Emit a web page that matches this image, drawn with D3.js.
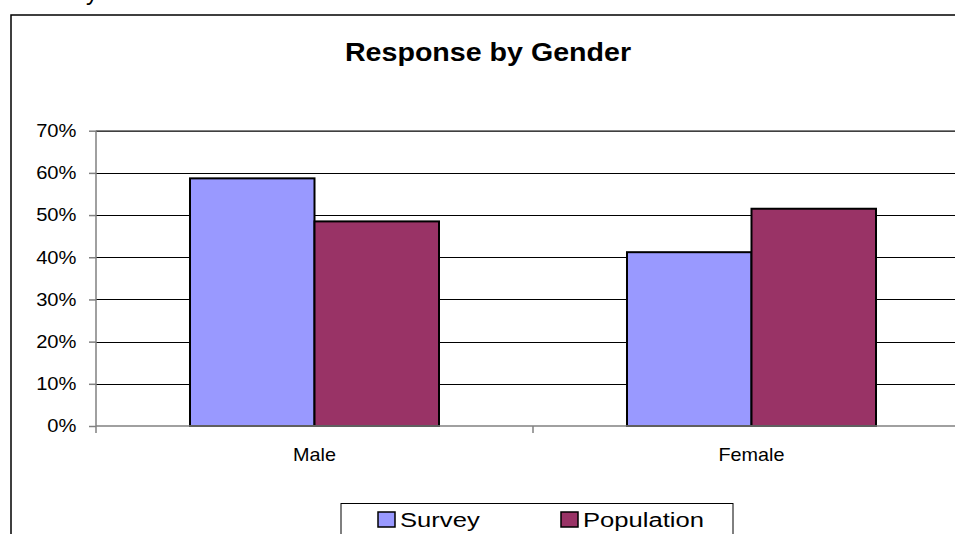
<!DOCTYPE html>
<html>
<head>
<meta charset="utf-8">
<script src="https://d3js.org/d3.v7.min.js"></script>
<style>
    body { margin: 0; background: #fff; }
    svg { display: block; font-family: Arial, "Liberation Sans", sans-serif; }
    .grid line { stroke: #000; stroke-width: 1px; shape-rendering: crispEdges; }
    .grid path { stroke-width: 0; }
    .axis path, .axis line { fill: none; stroke: #808080; stroke-width: 1.5px; }
    .axis text { font-size: 18px; fill: #000; }
    .bar { stroke: #000; stroke-width: 2px; }
</style>
</head>
<body>
<svg id="chart" width="955" height="534"></svg>
<script>
    // данные
    const categories = ["Male", "Female"];
    const seriesNames = ["Survey", "Population"];
    const survey = [0.587, 0.412];
    const population = [0.485, 0.515];
    const seriesColors = ["#9999FF", "#993366"];
    const yTicks = [0, 0.1, 0.2, 0.3, 0.4, 0.5, 0.6, 0.7];

    const svg = d3.select("#chart");
    const plot = { left: 96, right: 970, top: 130.7, bottom: 426 };
    const sx = 1.12; // текст немного растянут по горизонтали

    // внешняя рамка (правый и нижний края за пределами картинки)
    svg.append("rect")
        .attr("x", 11).attr("y", 15)
        .attr("width", 1000).attr("height", 600)
        .attr("fill", "none").attr("stroke", "#000").attr("stroke-width", 1.5);

    // обрезанный кусок текста сверху
    svg.append("text")
        .attr("x", 86).attr("y", 0)
        .style("font-size", "24px")
        .text("y");

    const x0 = d3.scaleBand().domain(categories).range([plot.left, plot.right]);
    const x1 = d3.scaleBand().domain(seriesNames).range([0, x0.bandwidth()]).paddingOuter(0.755);
    const y = d3.scaleLinear().domain([0, 0.7]).range([plot.bottom, plot.top]);

    // сетка
    svg.append("g")
        .attr("class", "grid")
        .attr("transform", `translate(${plot.left},0)`)
        .call(d3.axisLeft(y).tickValues(yTicks.slice(1)).tickSize(-(plot.right - plot.left)).tickFormat(""));

    // рамка области графика сверху
    svg.append("line")
        .attr("x1", plot.left).attr("x2", plot.right)
        .attr("y1", plot.top).attr("y2", plot.top)
        .attr("stroke", "#808080").attr("stroke-width", 1.5);

    // столбцы
    const rows = categories.map((c, i) => ({ cat: c, values: [survey[i], population[i]] }));
    svg.selectAll(".group")
        .data(rows)
        .enter().append("g")
        .attr("class", "group")
        .attr("transform", d => `translate(${x0(d.cat)},0)`)
        .selectAll("rect")
        .data(d => d.values.map((v, j) => ({ name: seriesNames[j], value: v, color: seriesColors[j] })))
        .enter().append("rect")
        .attr("class", "bar")
        .attr("x", d => x1(d.name))
        .attr("y", d => y(d.value))
        .attr("width", x1.bandwidth())
        .attr("height", d => y(0) - y(d.value))
        .attr("fill", d => d.color);

    // ось Y
    const yAxis = svg.append("g")
        .attr("class", "axis")
        .attr("transform", `translate(${plot.left},0)`)
        .call(d3.axisLeft(y).tickValues(yTicks).tickFormat(d3.format(".0%")).tickSize(7).tickSizeOuter(0));
    yAxis.select(".domain").attr("d", `M0,${plot.top}V${plot.bottom}`);
    yAxis.selectAll("text")
        .attr("x", -19.5 / sx)
        .attr("transform", `scale(${sx},1)`);

    // ось X
    const xAxis = svg.append("g")
        .attr("class", "axis")
        .attr("transform", `translate(0,${plot.bottom})`)
        .call(d3.axisBottom(x0).tickSize(0).tickSizeOuter(0));
    xAxis.select(".domain").attr("d", `M${plot.left},0H${plot.right}`);
    xAxis.selectAll(".tick text")
        .attr("y", 0).attr("dy", "1.95em")
        .attr("transform", `scale(1.1,1)`)
        .attr("x", 0);
    // деления между категориями
    const boundaries = categories.map(c => x0(c)).concat([x0.range()[1]]);
    xAxis.selectAll(".sep")
        .data(boundaries)
        .enter().append("line")
        .attr("class", "sep")
        .attr("x1", d => d).attr("x2", d => d)
        .attr("y1", 0).attr("y2", 7)
        .attr("stroke", "#808080").attr("stroke-width", 1.5);

    // заголовок
    svg.append("text")
        .attr("transform", `translate(488,61) scale(1.1,1)`)
        .attr("text-anchor", "middle")
        .style("font-size", "26px")
        .style("font-weight", "bold")
        .text("Response by Gender");

    // легенда
    const legend = svg.append("g");
    legend.append("rect")
        .attr("x", 341).attr("y", 503.5)
        .attr("width", 392).attr("height", 60)
        .attr("fill", "#fff").attr("stroke", "#000").attr("stroke-width", 1);
    const legendX = [378, 561];
    const items = legend.selectAll(".item")
        .data(seriesNames)
        .enter().append("g")
        .attr("transform", (d, i) => `translate(${legendX[i]},512)`);
    items.append("rect")
        .attr("width", 17).attr("height", 15)
        .attr("fill", (d, i) => seriesColors[i])
        .attr("stroke", "#000").attr("stroke-width", 1.5);
    items.append("text")
        .attr("transform", "translate(22,15) scale(1.22,1)")
        .style("font-size", "21px")
        .text(d => d);
</script>
</body>
</html>
